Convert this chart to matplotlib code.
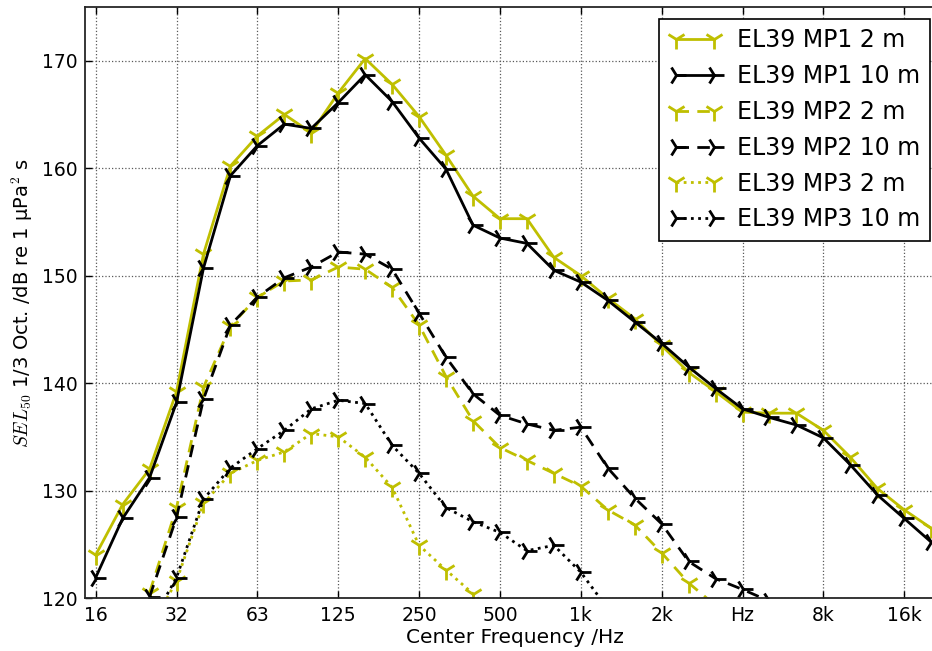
import numpy as np
import matplotlib
matplotlib.use("Agg")
import matplotlib.pyplot as plt

plt.rcParams['mathtext.fontset'] = 'cm'
plt.rcParams['font.family'] = ['DejaVu Sans']

# 1/3-octave band centre frequencies (exact base-2), 16 Hz ... 20 kHz
freqs = 1000.0 * 2.0 ** (np.arange(-18, 14) / 3.0)
nan = np.nan

mp1_2m = [124.0, 128.7, 132.0, 139.2, 152.0, 160.2, 163.0, 165.0, 163.3, 167.0,
          170.2, 167.8, 164.8, 161.2, 157.4, 155.3, 155.3, 151.7, 150.0, 147.9,
          146.0, 143.5, 141.0, 139.2, 137.3, 137.2, 137.2, 135.6, 133.1, 130.2,
          128.2, 126.5]
mp1_10m = [121.9, 127.4, 131.2, 138.2, 150.7, 159.3, 162.1, 164.1, 163.7, 166.1,
           168.7, 166.2, 162.8, 159.9, 154.7, 153.5, 153.0, 150.5, 149.4, 147.7,
           145.7, 143.7, 141.5, 139.5, 137.6, 136.8, 136.1, 134.9, 132.4, 129.6,
           127.4, 125.2]
mp2_2m = [nan, nan, 120.5, 128.4, 139.6, 145.3, 148.0, 149.5, 149.6, 150.8,
          150.6, 148.9, 145.4, 140.6, 136.5, 134.0, 132.8, 131.6, 130.4, 128.2,
          126.8, 124.2, 121.4, 119.3, nan, nan, nan, nan, nan, nan, nan, nan]
mp2_10m = [nan, nan, 120.1, 127.5, 138.5, 145.4, 148.0, 149.8, 150.8, 152.2,
           152.0, 150.6, 146.5, 142.4, 139.0, 137.0, 136.2, 135.6, 135.9, 132.1,
           129.3, 126.9, 123.4, 121.8, 120.8, 119.7, nan, nan, nan, nan, nan, nan]
mp3_2m = [nan, nan, 117.0, 121.6, 128.8, 131.6, 132.8, 133.6, 135.3, 135.0,
          133.1, 130.3, 124.9, 122.6, 120.4, 118.0, nan, nan, nan, nan,
          nan, nan, nan, nan, nan, nan, nan, nan, nan, nan, nan, nan]
mp3_10m = [nan, nan, 117.4, 121.9, 129.2, 132.1, 133.9, 135.6, 137.6, 138.4,
           138.1, 134.2, 131.6, 128.4, 127.1, 126.1, 124.4, 124.9, 122.4, 119.0,
           nan, nan, nan, nan, nan, nan, nan, nan, nan, nan, nan, nan]

tick_freqs = [15.625, 31.25, 62.5, 125, 250, 500, 1000, 2000, 4000, 8000, 16000]
tick_labels = ['16', '32', '63', '125', '250', '500', '1k', '2k', 'Hz', '8k', '16k']

series = [
    ('EL39 MP1 2 m', mp1_2m, '#bfbf00', '-', '1'),
    ('EL39 MP1 10 m', mp1_10m, 'k', '-', '4'),
    ('EL39 MP2 2 m', mp2_2m, '#bfbf00', (0, (4.5, 3)), '1'),
    ('EL39 MP2 10 m', mp2_10m, 'k', (0, (4.5, 3)), '4'),
    ('EL39 MP3 2 m', mp3_2m, '#bfbf00', (0, (1, 1.6)), '1'),
    ('EL39 MP3 10 m', mp3_10m, 'k', (0, (1, 1.6)), '4'),
]

fig = plt.figure(figsize=(9.32, 6.51), dpi=100)
fig.patch.set_facecolor('white')
ax = fig.add_axes([85 / 932, 53 / 651, 860 / 932, 591 / 651])

for label, vals, color, ls, mk in series:
    ax.plot(freqs, vals, color=color, linestyle=ls, linewidth=2.0,
            marker=mk, markersize=14, markeredgewidth=2.0, label=label)

ax.set_xscale('log', base=2)
ax.set_xlim(14.26, 22690)
ax.set_ylim(120, 175)
ax.set_xticks(tick_freqs)
ax.set_xticklabels(tick_labels)
ax.xaxis.set_minor_locator(matplotlib.ticker.NullLocator())
ax.set_yticks([120, 130, 140, 150, 160, 170])
ax.tick_params(direction='in', top=True, right=True, length=5, width=1,
               labelsize=13.5, pad=6, colors='k')
ax.tick_params(axis='y', pad=5)
ax.grid(True, color='0.35', linestyle=':', linewidth=0.9)
for s in ax.spines.values():
    s.set_linewidth(1.3)
    s.set_color('0.15')

ax.set_xlabel('Center Frequency /Hz', fontsize=14.5, labelpad=2)
ax.set_ylabel(r'$SEL_{50}$ 1/3 Oct. /dB re 1 µPa$^{\mathsf{2}}$ s', fontsize=14)
ax.yaxis.set_label_coords(-0.058, 0.5)

leg = ax.legend(loc='upper right', bbox_to_anchor=(930 / 932, 1 - 19 / 651),
                bbox_transform=fig.transFigure, numpoints=2, fontsize=17,
                fancybox=False, framealpha=1, edgecolor='k', borderpad=0.4,
                labelspacing=0.5, handlelength=2.2, handletextpad=0.7,
                borderaxespad=0)
leg.get_frame().set_linewidth(1.2)

fig.savefig('out.png', dpi=100, facecolor='white')
